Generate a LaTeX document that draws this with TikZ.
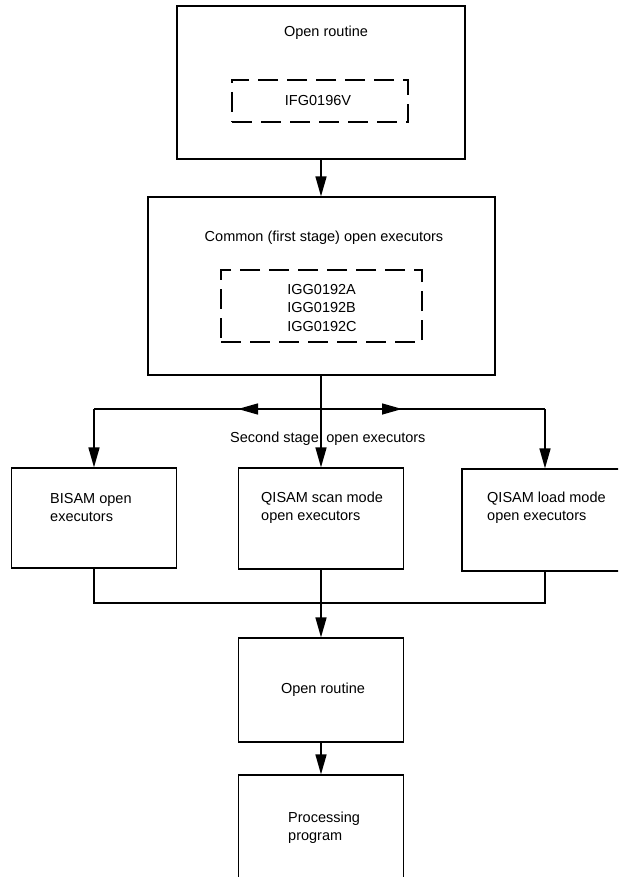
\documentclass[tikz,border=0pt]{standalone}
\usepackage{fontspec}
\setmainfont{Liberation Sans}
\usetikzlibrary{arrows.meta}
\begin{document}
\begin{tikzpicture}[x=1pt,y=-1pt,
  box/.style={draw, line width=1.2pt, inner sep=0pt},
  dbox/.style={draw, line width=1.2pt, dash pattern=on 20pt off 9pt, inner sep=0pt},
  lbl/.style={inner sep=0pt, font=\fontsize{14.5}{18.5}\selectfont, align=left},
  conn/.style={line width=1.5pt},
  arr/.style={conn, -{Triangle[length=20pt,width=11pt]}},
]
\useasboundingbox (0,0) rectangle (618,877);
\clip (0,0) rectangle (618,877);

% first open routine
\node[box, minimum width=288pt, minimum height=153pt] (b1) at (321,82.5) {};
\node[lbl] (t1) at (326,33) {Open routine};
\node[dbox, minimum width=176pt, minimum height=42pt] (d1) at (320,101) {};
\node[lbl] (t1d) at (318,101) {IFG0196V};

% common open executors
\node[box, minimum width=347pt, minimum height=178pt] (b2) at (321.5,286) {};
\node[lbl] (t2) at (324,238) {Common (first stage) open executors};
\node[dbox, minimum width=201pt, minimum height=72pt] (d2) at (321.5,306) {};
\node[lbl] (t2d) at (322,308) {IGG0192A\\IGG0192B\\IGG0192C};

% second stage boxes
\node[box, minimum width=165pt, minimum height=100pt] (l) at (94,518) {};
\node[box, minimum width=165pt, minimum height=101pt] (m) at (321,518.5) {};
\node[box, minimum width=218pt, minimum height=102pt] (r) at (571,520) {};
\node[lbl, anchor=west] (tl) at (50,507.5) {BISAM open\\executors};
\node[lbl, anchor=west] (tm) at (261,507.5) {QISAM scan mode\\open executors};
\node[lbl, anchor=west] (tr) at (487,507.5) {QISAM load mode\\open executors};

% open routine and processing program
\node[box, minimum width=165pt, minimum height=104pt] (o) at (321,690) {};
\node[lbl] (to) at (323,690) {Open routine};
\node[box, minimum width=165pt, minimum height=125pt] (p) at (321,837.5) {};
\node[lbl, anchor=west] (tp) at (288,827.5) {Processing\\program};

% connectors
\draw[arr] (b1.south) -- (b1.south |- b2.north);
\coordinate (j) at (321,409);
\coordinate (jl) at (94,409);
\coordinate (jr) at (545,409);
\coordinate (hl) at (238,409);
\coordinate (hr) at (402,409);
\draw[conn] (jl) -- (jr);
\draw[arr] (j) -- (hl);
\draw[arr] (j) -- (hr);
\draw[arr] (b2.south -| m.north) -- (m.north);
\draw[arr] (jl) -- (l.north);
\draw[arr] (jr) -- (jr |- r.north);
\node[lbl, anchor=west] (t3) at (230,439) {Second stage\hspace{7.5pt}open executors};

\coordinate (bl) at (94,603);
\coordinate (br) at (545,603);
\draw[conn] (l.south) -- (bl) -- (br) -- (br |- r.south);
\draw[conn] (m.south) -- (m.south |- bl);
\draw[arr] (o.north |- bl) -- (o.north);
\draw[arr] (o.south) -- (p.north);
\end{tikzpicture}
\end{document}
